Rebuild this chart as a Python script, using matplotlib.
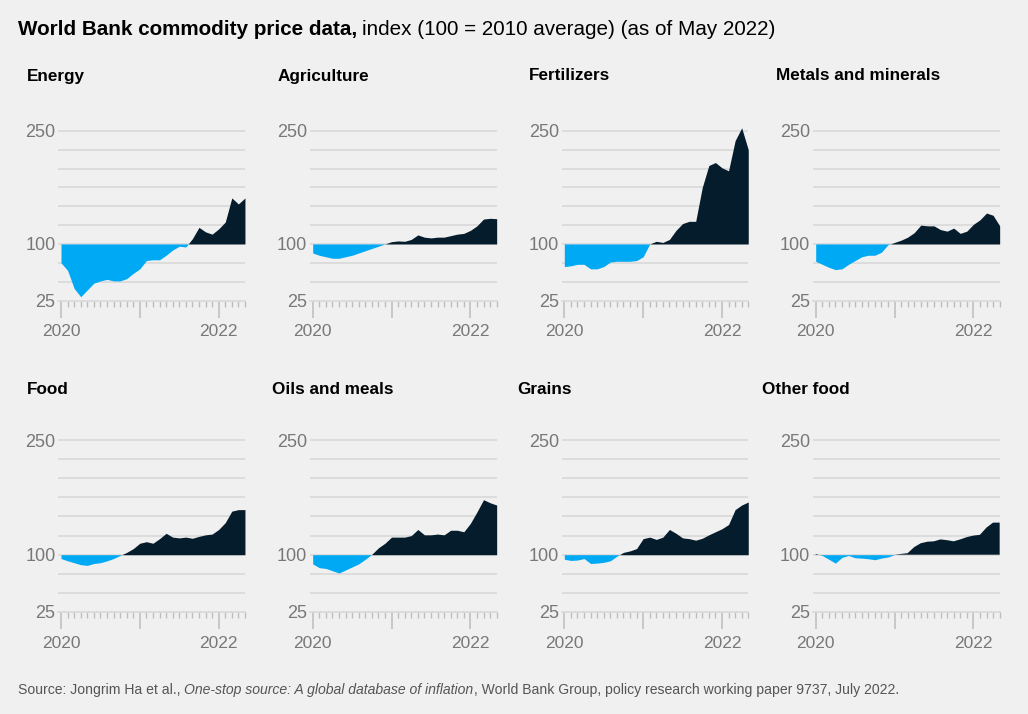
import matplotlib.pyplot as plt
import numpy as np

# monthly index values, Jan 2020 .. May 2022 (100 = 2010 average)
months = np.arange(29)

energy = [75, 65, 41, 30, 39, 48, 51, 53, 51, 51, 54, 61, 67, 78, 79, 79,
          85, 92, 97, 96, 107, 122, 116, 113, 120, 129, 161, 153, 161]
agriculture = [88, 85, 83, 81, 81, 83, 85, 88, 91, 94, 97, 100, 103, 104, 103.5,
               106, 112, 109, 108, 109, 109, 111, 113, 114, 118, 124, 133, 134, 133.5]
fertilizers = [70, 71, 73, 73, 67, 67, 70, 76, 77, 77, 77, 78, 83, 100, 103.5,
               102, 106, 118, 127, 130, 130, 175, 204, 208, 201, 197, 237, 254, 225]
metals = [77, 73, 69, 66, 67, 73, 78, 83, 85, 85, 89, 99, 102, 105, 109, 115,
          125, 124, 124, 119, 117, 121, 114, 117, 126, 132, 141, 138, 124]
food = [95, 92, 89.5, 87, 86, 88.5, 89.5, 92, 95, 99, 103, 108, 115, 117, 115,
        121, 128, 123, 122, 123, 121.5, 124, 126, 127, 133, 142, 157, 159, 159]
oils_meals = [88, 83, 82, 79, 76, 80, 84, 88, 94, 100.5, 109, 115, 123, 123, 123,
              125, 133, 126, 126, 127, 126, 132, 132, 130, 141, 156, 172, 168, 165]
grains = [94, 92.5, 93, 95, 88.5, 89, 90, 92, 98, 103, 105, 108, 121, 123, 120,
          123, 133, 128, 122, 121, 119, 121.5, 126, 130, 134, 139.5, 159, 165, 169]
other_food = [101, 99, 94, 89, 96.5, 99, 96, 95.5, 94.7, 93.4, 95.6, 97, 100, 101,
              102, 110, 115, 117, 117.5, 120, 119, 117.5, 120, 123, 125, 126, 135.5, 142, 142]

panel_titles = ["Energy", "Agriculture", "Fertilizers", "Metals and minerals",
                "Food", "Oils and meals", "Grains", "Other food"]
series = [energy, agriculture, fertilizers, metals,
          food, oils_meals, grains, other_food]
year_ticks = [0, 12, 24]
year_labels = ["2020", "", "2022"]

BG = "#f0f0f0"
BLUE = "#00a9f4"
NAVY = "#051c2c"
GRID = "#d9d9d9"
GREY = "#787878"

W, H = 1028, 714
fig = plt.figure(figsize=(W / 100, H / 100), dpi=100, facecolor=BG)
plt.rcParams['font.family'] = ['Liberation Sans', 'DejaVu Sans']

# layout in pixels
px_month = 6.57
col_x0 = [61, 312.7, 564.3, 815.7]        # pixel of Jan 2020
row_y25 = [300.5, 612]                     # pixel of value 25
row_scale = [0.754, 0.764]                 # px per index point
title_x = [[27, 278, 529, 776], [27, 272, 517, 762]]
title_y = [76, 390]
ylim = (25, 262)
xlim = (-0.4, 28)

for k, (name, vals) in enumerate(zip(panel_titles, series)):
    r, c = divmod(k, 4)
    left = col_x0[c] + xlim[0] * px_month
    width = (xlim[1] - xlim[0]) * px_month
    height = (ylim[1] - ylim[0]) * row_scale[r]
    bottom = row_y25[r]
    ax = fig.add_axes([left / W, 1 - bottom / H, width / W, height / H])
    ax.set_facecolor(BG)
    v = np.array(vals, dtype=float)
    for g in range(50, 251, 25):
        ax.axhline(g, color=GRID, lw=1.2, zorder=1)
    ax.fill_between(months, v, 100, where=v >= 100, interpolate=True,
                    color=NAVY, lw=0, zorder=2)
    ax.fill_between(months, v, 100, where=v <= 100, interpolate=True,
                    color=BLUE, lw=0, zorder=2)
    ax.set_xlim(*xlim)
    ax.set_ylim(*ylim)
    for s in ["top", "right", "left"]:
        ax.spines[s].set_visible(False)
    ax.spines["bottom"].set_color(GRID)
    ax.spines["bottom"].set_linewidth(1.2)
    ax.set_yticks([25, 100, 250])
    ax.tick_params(axis="y", length=0, pad=2, labelsize=13, labelcolor=GREY)
    ax.set_xticks(year_ticks)
    ax.set_xticklabels(year_labels)
    ax.set_xticks(months, minor=True)
    ax.tick_params(axis="x", which="major", length=12, width=1.1, color="#bdbdbd",
                   pad=5, labelsize=12.5, labelcolor=GREY)
    ax.tick_params(axis="x", which="minor", length=4, width=1.0, color="#bdbdbd")
    fig.text(title_x[r][c] / W, 1 - title_y[r] / H, name, fontsize=12.3,
             fontweight="bold", color="black", va="center", ha="left")

# headline with bold lead-in
t1 = fig.text(18 / W, 1 - 35 / H, "World Bank commodity price data,", fontsize=14.9,
              fontweight="bold", color="black", va="baseline", ha="left")
fig.canvas.draw()
bb = t1.get_window_extent()
fig.text((bb.x1 + 5) / W, 1 - 35 / H, "index (100 = 2010 average) (as of May 2022)",
         fontsize=14.9, color="black", va="baseline", ha="left")

# source line
y_src = 1 - 694 / H
src_size = 10.05
s1 = fig.text(18 / W, y_src, "Source: Jongrim Ha et al., ", fontsize=src_size,
              color="#555555", va="baseline", ha="left")
fig.canvas.draw()
b1 = s1.get_window_extent()
s2 = fig.text(b1.x1 / W, y_src, "One-stop source: A global database of inflation",
              fontsize=src_size, style="italic", color="#555555", va="baseline", ha="left")
fig.canvas.draw()
b2 = s2.get_window_extent()
fig.text(b2.x1 / W, y_src,
         ", World Bank Group, policy research working paper 9737, July 2022.",
         fontsize=src_size, color="#555555", va="baseline", ha="left")

fig.savefig("out.png", dpi=100, facecolor=BG)
